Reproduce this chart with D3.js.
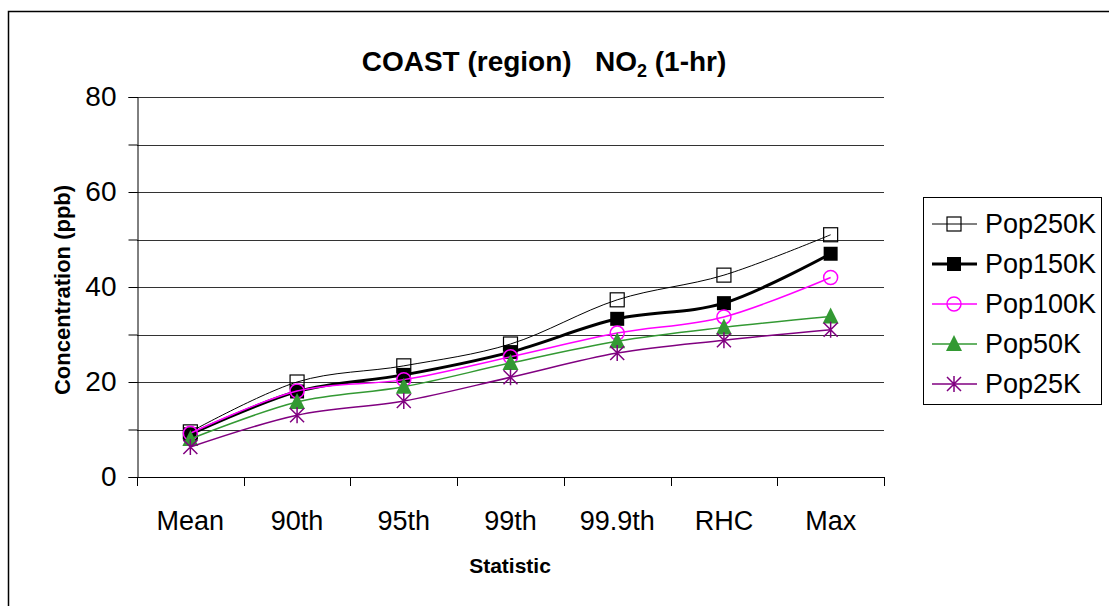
<!DOCTYPE html>
<html>
<head>
<meta charset="utf-8">
<script src="https://cdn.jsdelivr.net/npm/d3@7"></script>
<style>
html,body{margin:0;padding:0;background:#fff;}
svg{display:block;font-family:"Liberation Sans",Arial,sans-serif;}
</style>
</head>
<body>
<svg id="chart" width="1109" height="606"></svg>
<script>
const categories = ["Mean","90th","95th","99th","99.9th","RHC","Max"];
const seriesNames = ["Pop250K","Pop150K","Pop100K","Pop50K","Pop25K"];
const pop250K = [9.5, 20, 23.4, 28, 37.3, 42.5, 51];
const pop150K = [9, 18, 21.5, 26.3, 33.3, 36.6, 47];
const pop100K = [9.2, 18.1, 20.5, 25.3, 30.3, 33.7, 42];
const pop50K  = [8, 15.8, 19, 24, 28.6, 31.5, 33.8];
const pop25K  = [6.3, 13, 16, 21, 26.1, 28.8, 31];
const yTicks = [0, 20, 40, 60, 80];
const yGrid = [0,10,20,30,40,50,60,70,80];

const styles = [
  {name:"Pop250K", data:pop250K, color:"#000", width:1, marker:"squareOpen"},
  {name:"Pop150K", data:pop150K, color:"#000", width:3, marker:"squareFilled"},
  {name:"Pop100K", data:pop100K, color:"#ff00ff", width:1.5, marker:"circle"},
  {name:"Pop50K",  data:pop50K,  color:"#339933", width:1.5, marker:"triangle"},
  {name:"Pop25K",  data:pop25K,  color:"#800080", width:1.5, marker:"star"}
];

const svg = d3.select("#chart");
// outer frame
svg.append("rect").attr("x",8.5).attr("y",11.5).attr("width",1200).attr("height",700)
  .attr("fill","none").attr("stroke","#000").attr("stroke-width",1.5);

const L=137, R=884, T=97, B=477;
const x = d3.scaleBand().domain(categories).range([L,R]);
const y = d3.scaleLinear().domain([0,80]).range([B,T]);

// gridlines
svg.append("g").selectAll("line").data(yGrid.filter(d=>d>0)).join("line")
  .attr("x1",L).attr("x2",R).attr("y1",d=>Math.round(y(d))+0.5).attr("y2",d=>Math.round(y(d))+0.5)
  .attr("stroke","#333").attr("stroke-width",1);

// y axis
const yAxis = d3.axisLeft(y).tickValues(yGrid).tickSize(9).tickPadding(12)
  .tickFormat(d=> yTicks.includes(d) ? d : "");
const gy = svg.append("g").attr("transform",`translate(${L+0.5},0)`).call(yAxis);
gy.select(".domain").attr("stroke","#000");
gy.selectAll(".tick line").attr("stroke","#000");
gy.selectAll("text").attr("font-size",28).attr("fill","#000").attr("font-family","Liberation Sans, Arial, sans-serif");

// x axis
const xAxis = d3.axisBottom(x).tickSize(0).tickPadding(33);
const gx = svg.append("g").attr("transform",`translate(0,${B+0.5})`).call(xAxis);
gx.select(".domain").attr("stroke","#000").attr("d",`M${L},0H${R}`);
gx.selectAll("text").attr("font-size",27).attr("fill","#000").attr("font-family","Liberation Sans, Arial, sans-serif");
// x ticks at band boundaries
const bounds = categories.map(c=>x(c)).concat([R]);
svg.append("g").selectAll("line").data(bounds).join("line")
  .attr("x1",d=>Math.round(d)+0.5).attr("x2",d=>Math.round(d)+0.5)
  .attr("y1",B).attr("y2",B+9).attr("stroke","#000");

// titles
const title = svg.append("text").attr("x",544).attr("y",71).attr("text-anchor","middle")
  .attr("font-size",28).attr("font-weight","bold");
title.append("tspan").text("COAST (region)\u00a0\u00a0\u00a0NO");
title.append("tspan").attr("font-size",18).attr("dy",6).text("2");
title.append("tspan").attr("dy",-6).text(" (1-hr)");

svg.append("text").attr("x",510).attr("y",573).attr("text-anchor","middle")
  .attr("font-size",21).attr("font-weight","bold").text("Statistic");
svg.append("text").attr("transform","translate(70,290) rotate(-90)").attr("text-anchor","middle")
  .attr("font-size",22).attr("font-weight","bold").text("Concentration (ppb)");

// lines
const line = d3.line().x((d,i)=>x(categories[i])+x.bandwidth()/2).y(d=>y(d))
  .curve(d3.curveCardinal.tension(0));

function drawMarker(g, type, color, cx, cy){
  const s=7;
  if(type==="squareOpen"){
    g.append("rect").attr("x",cx-s).attr("y",cy-s).attr("width",2*s).attr("height",2*s)
      .attr("fill","none").attr("stroke","#000").attr("stroke-width",1.2);
  } else if(type==="squareFilled"){
    g.append("rect").attr("x",cx-s).attr("y",cy-s).attr("width",2*s).attr("height",2*s)
      .attr("fill","#000");
  } else if(type==="circle"){
    g.append("circle").attr("cx",cx).attr("cy",cy).attr("r",s)
      .attr("fill","none").attr("stroke",color).attr("stroke-width",1.5);
  } else if(type==="triangle"){
    g.append("path").attr("d",`M${cx},${cy-s-2}L${cx+s+1},${cy+s}L${cx-s-1},${cy+s}Z`).attr("fill",color);
  } else if(type==="star"){
    g.append("path").attr("d",`M${cx-s},${cy-s}L${cx+s},${cy+s}M${cx+s},${cy-s}L${cx-s},${cy+s}M${cx},${cy-s-1}L${cx},${cy+s+1}`)
      .attr("stroke",color).attr("stroke-width",1.5).attr("fill","none");
  }
}

styles.forEach(st=>{
  const g = svg.append("g");
  g.append("path").datum(st.data).attr("d",line).attr("fill","none")
    .attr("stroke",st.color).attr("stroke-width",st.width);
  st.data.forEach((v,i)=>drawMarker(g, st.marker, st.color, x(categories[i])+x.bandwidth()/2, y(v)));
});

// legend
const lg = svg.append("g");
lg.append("rect").attr("x",923.5).attr("y",197.5).attr("width",178).attr("height",207)
  .attr("fill","#fff").attr("stroke","#000").attr("stroke-width",1);
styles.forEach((st,i)=>{
  const cy = 224 + i*40;
  const g = lg.append("g");
  g.append("line").attr("x1",932).attr("x2",977).attr("y1",cy).attr("y2",cy)
    .attr("stroke",st.color).attr("stroke-width",st.width);
  drawMarker(g, st.marker, st.color, 954, cy);
  g.append("text").attr("x",985).attr("y",cy+9).attr("font-size",27).text(st.name);
});
</script>
</body>
</html>
